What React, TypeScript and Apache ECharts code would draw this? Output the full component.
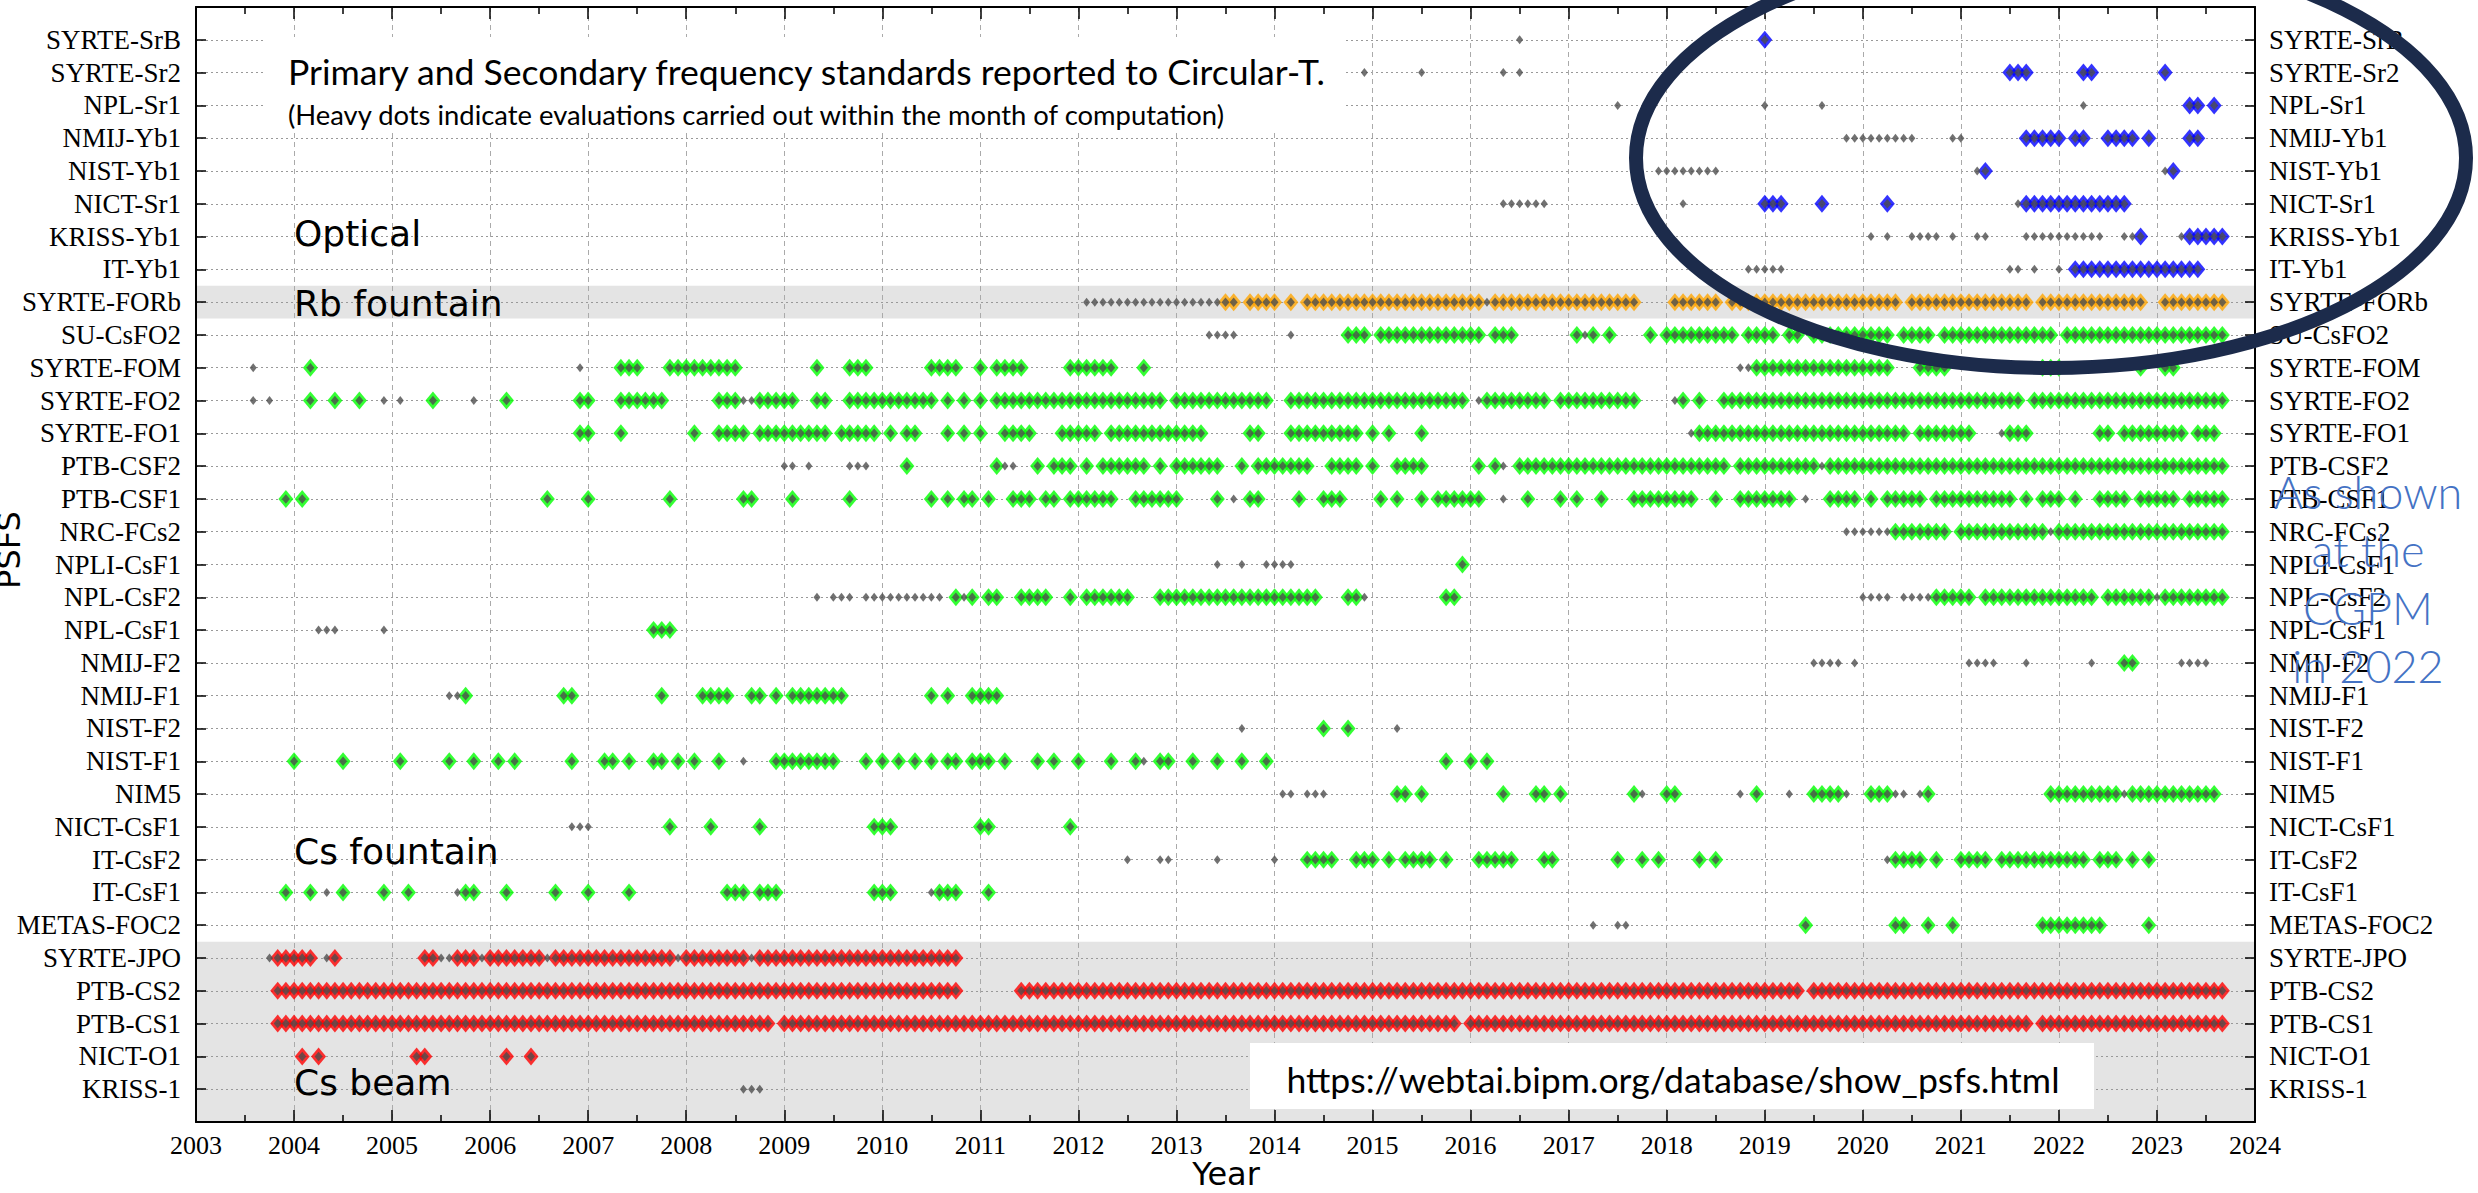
import React, { useEffect, useRef } from "react";
import * as echarts from "echarts";

// ---------- categories (top to bottom) ----------
const ROWS = [
  "SYRTE-SrB", "SYRTE-Sr2", "NPL-Sr1", "NMIJ-Yb1", "NIST-Yb1", "NICT-Sr1", "KRISS-Yb1", "IT-Yb1",
  "SYRTE-FORb",
  "SU-CsFO2", "SYRTE-FOM", "SYRTE-FO2", "SYRTE-FO1", "PTB-CSF2", "PTB-CSF1", "NRC-FCs2", "NPLI-CsF1",
  "NPL-CsF2", "NPL-CsF1", "NMIJ-F2", "NMIJ-F1", "NIST-F2", "NIST-F1", "NIM5", "NICT-CsF1", "IT-CsF2",
  "IT-CsF1", "METAS-FOC2",
  "SYRTE-JPO", "PTB-CS2", "PTB-CS1", "NICT-O1", "KRISS-1",
];
const OPTICAL = ["SYRTE-SrB", "SYRTE-Sr2", "NPL-Sr1", "NMIJ-Yb1", "NIST-Yb1", "NICT-Sr1", "KRISS-Yb1", "IT-Yb1"];
const RB_FOUNTAIN = ["SYRTE-FORb"];
const CS_FOUNTAIN = ["SU-CsFO2", "SYRTE-FOM", "SYRTE-FO2", "SYRTE-FO1", "PTB-CSF2", "PTB-CSF1", "NRC-FCs2", "NPLI-CsF1",
  "NPL-CsF2", "NPL-CsF1", "NMIJ-F2", "NMIJ-F1", "NIST-F2", "NIST-F1", "NIM5", "NICT-CsF1", "IT-CsF2", "IT-CsF1", "METAS-FOC2"];
const CS_BEAM = ["SYRTE-JPO", "PTB-CS2", "PTB-CS1", "NICT-O1", "KRISS-1"];
const YEAR_TICKS = [2003, 2024];

// ---------- monthly reports: per year, 12 months (Jan..Dec); 'X' heavy dot, 'o' light dot ----------
const ALL = "XXXXXXXXXXXX";
const SYRTE_SrB = { 2016: "......o.....", 2019: "X..........." };
const SYRTE_Sr2 = { 2014: "...........o", 2015: "......o.....", 2016: "....o.o.....", 2021: "......XXX...", 2022: "...XX.......", 2023: ".X.........." };
const NPL_Sr1 = { 2017: "......o.....", 2019: "o......o....", 2022: "...o........", 2023: "....XX.X...." };
const NMIJ_Yb1 = { 2019: "..........oo", 2020: "ooooooo....o", 2021: "o.......XXXX", 2022: "X.XX..XXXX.X", 2023: "....XX......" };
const NIST_Yb1 = { 2017: "...........o", 2018: "ooooooo.....", 2021: "..oX........", 2023: ".oX........." };
const NICT_Sr1 = { 2016: "....oooooo..", 2018: "..o.........", 2019: "XXX....X....", 2020: "...X........", 2021: ".......oXXXX", 2022: "XXXXXXXXX..." };
const KRISS_Yb1 = { 2020: ".o.o..oooo.o", 2021: "..oo....oooo", 2022: "oooooo..ooX.", 2023: "...oXXXXX..." };
const IT_Yb1 = { 2018: "..........oo", 2019: "ooo.........", 2021: "......oo.o..", 2022: "o.XXXXXXXXXX", 2023: "XXXXXX......" };
const SYRTE_FORb = { 2012: ".ooooooooooo", 2013: "ooooooXX.XXX", 2014: "X.X.XXXXXXXX", 2015: ALL, 2016: "XXoXXXXXXXXX", 2017: "XXXXXXXXX...", 2018: ".XXXXXX.XXXX", 2019: ALL, 2020: "XXXXX.XXXXXX", 2021: "XXXXXXXXX.XX", 2022: "XXXXXXXXXXX.", 2023: ".XXXXXXXX..." };
const SU_CsFO2 = { 2013: "....oooo....", 2014: "..o......XXX", 2015: ".XXXXXXXXXXX", 2016: "XX.XXX......", 2017: ".XoX.X....X.", 2018: "XXXXXXXXX.XX", 2019: "XX.XX.XXXXXX", 2020: "XXXX.XXXX.XX", 2021: ALL, 2022: ".XXXXXXXXXXX", 2023: "XXXXXXXXX..." };
const SYRTE_FOM = { 2003: ".......o....", 2004: "..X.........", 2006: "...........o", 2007: "....XXX...XX", 2008: "XXXXXXX.....", 2009: "....X...XXX.", 2010: "......XXXX..", 2011: "X.XXXX.....X", 2012: "XXXXX...X...", 2018: ".........ooX", 2019: ALL, 2020: "XXXX...XXXX.", 2021: "..........XX", 2022: "X.........X.", 2023: ".XX........." };
const SYRTE_FO2 = { 2003: ".......o.o..", 2004: "..X..X..X..o", 2005: ".o...X....o.", 2006: "..X........X", 2007: "X...XXXXXX..", 2008: "....XXXooXXX", 2009: "XX..XX..XXXX", 2010: "XXXXXXX.X.X.", 2011: "X.XXXXXXXXXX", 2012: "XXXXXXXXXXX.", 2013: ALL, 2014: "..XXXXXXXXXX", 2015: ALL, 2016: ".oXXXXXXXX.X", 2017: "XXXXXXXXX...", 2018: ".oX.X..XXXXX", 2019: ALL, 2020: ALL, 2021: "XXXXXXXX.XXX", 2022: ALL, 2023: "XXXXXXXXX..." };
const SYRTE_FO1 = { 2006: "...........X", 2007: "X...X.......", 2008: ".X..XXXX.XXX", 2009: "XXXXXX.XXXXX", 2010: ".X.XX...X.X.", 2011: "X..XXXX...XX", 2012: "XXX.XXXXXXXX", 2013: "XXXX.....XX.", 2014: "..XXXXXXXXX.", 2015: "X.X...X.....", 2018: "...oXXXXXXXX", 2019: ALL, 2020: "XXXXXX.XXXXX", 2021: "XX...oXXX...", 2022: ".....XX.XXXX", 2023: "XXXX.XXX...." };
const PTB_CSF2 = { 2009: "oo.o....ooo.", 2010: "...X........", 2011: "..Xoo..X.XXX", 2012: ".X.XXXXXX.X.", 2013: "XXXXXX..X.XX", 2014: "XXXXX..XXXX.", 2015: "X..XXXX.....", 2016: ".X.Xo.XXXXXX", 2017: ALL, 2018: "XXXXXXXX.XXX", 2019: "XXXXXXXoXXXX", 2020: ALL, 2021: ALL, 2022: ALL, 2023: "XXXXXXXXX..." };
const PTB_CSF1 = { 2003: "...........X", 2004: ".X..........", 2006: ".......X....", 2007: "X.........X.", 2008: ".......XX...", 2009: ".X......X...", 2010: "......X.X.XX", 2011: ".X..XXX.XX.X", 2012: "XXXXX..XXXXX", 2013: "X....X.o.XX.", 2014: "...X..XXX...", 2015: ".X.X..X.XXXX", 2016: "XX..o..X...X", 2017: ".X..X...XXXX", 2018: "XXXX..X..XXX", 2019: "XXXX.o..XXXX", 2020: ".X.XXXXX.XXX", 2021: "XXXXXXX.X.XX", 2022: "X.X..XXXX.XX", 2023: "XXX.XXXXX..." };
const NRC_FCs2 = { 2019: "..........oo", 2020: "ooooXXXXXXX.", 2021: "XXXXXXXXXXXo", 2022: ALL, 2023: "XXXXXXXXX..." };
const NPLI_CsF1 = { 2013: ".....o..o..o", 2014: "ooo.........", 2015: "...........X" };
const NPL_CsF2 = { 2009: "....o.ooo.oo", 2010: "oooooooo.XoX", 2011: ".XX..XXXX..X", 2012: ".XXXXXX...XX", 2013: ALL, 2014: "XXXXXX...XXo", 2015: ".........XX.", 2020: "oooo.ooooXXX", 2021: "XX.XXXXXXXXX", 2022: "XXXXX.XXXXXX", 2023: "oXXXXXXXX..." };
const NPL_CsF1 = { 2004: "...ooo.....o", 2007: "........XXX." };
const NMIJ_F2 = { 2019: "......oooo.o", 2021: ".oooo...o...", 2022: "....o...XX..", 2023: "...oooo....." };
const NMIJ_F1 = { 2005: ".......ooX..", 2006: ".........XX.", 2007: ".........X..", 2008: "..XXXX..XX.X", 2009: ".XXXXXXX....", 2010: "......X.X..X", 2011: "XXX........." };
const NIST_F2 = { 2013: "........o...", 2014: "......X..X..", 2015: "...o........" };
const NIST_F1 = { 2004: "X.....X.....", 2005: ".X.....X..X.", 2006: ".X.X......X.", 2007: "..XX.X..XX.X", 2008: ".X..X..o...X", 2009: "XXXXXXX...X.", 2010: "X.X.X.X.XX.X", 2011: "XX.X...X.X..", 2012: "X...X..Xo.XX", 2013: "..X..X..X..X", 2015: ".........X..", 2016: "X.X........." };
const NIM5 = { 2014: ".oo.ooo.....", 2015: "...XX.X.....", 2016: "....X...XX.X", 2017: "........Xo..", 2018: "XX.......o.X", 2019: "...o..XXXXo.", 2020: ".XXXoo.oX...", 2021: "...........X", 2022: "XXXXXXXXoXXX", 2023: "XXXXXXXX...." };
const NICT_CsF1 = { 2006: "..........oo", 2007: "o.........X.", 2008: "...X.....X..", 2009: "...........X", 2010: "XX..........", 2011: "XX.........X" };
const IT_CsF2 = { 2012: "......o...oo", 2013: ".....o......", 2014: "o...XXXX..XX", 2015: "X.X.XXXX.X..", 2016: ".XXXXX...XX.", 2017: "......X..X.X", 2018: "....X.X.....", 2020: "...oXXXX.X..", 2021: "XXXX.XXXXXXX", 2022: "XXXX.XXX.X.X" };
const IT_CsF1 = { 2003: "...........X", 2004: "..X.o.X....X", 2005: "..X.....oXX.", 2006: "..X.....X...", 2007: "X....X......", 2008: ".....XXX.XXX", 2009: "...........X", 2010: "XX....oXXX..", 2011: ".X.........." };
const METAS_FOC2 = { 2017: "...o..oo....", 2019: ".....X......", 2020: "....XX..X..X", 2021: "..........XX", 2022: "XXXXXX.....X" };
const SYRTE_JPO = { 2003: ".........oXX", 2004: "XXX.oX......", 2005: "....XXooXXXo", 2006: "XXXXXXXoXXXX", 2007: "XXXXXXXXXXXo", 2008: "XXXXXXXXoXXX", 2009: ALL, 2010: "XXXXXXXXXX.." };
const PTB_CS2 = { 2003: "..........XX", 2004: ALL, 2005: ALL, 2006: ALL, 2007: ALL, 2008: ALL, 2009: ALL, 2010: "XXXXXXXXXX..", 2011: ".....XXXXXXX", 2012: ALL, 2013: ALL, 2014: ALL, 2015: ALL, 2016: ALL, 2017: ALL, 2018: ALL, 2019: "XXXXX.XXXXXX", 2020: ALL, 2021: ALL, 2022: ALL, 2023: "XXXXXXXXX..." };
const PTB_CS1 = { 2003: "..........XX", 2004: ALL, 2005: ALL, 2006: ALL, 2007: ALL, 2008: "XXXXXXXXXXX.", 2009: ALL, 2010: ALL, 2011: ALL, 2012: ALL, 2013: ALL, 2014: ALL, 2015: "XXXXXXXXXXX.", 2016: ALL, 2017: ALL, 2018: ALL, 2019: ALL, 2020: ALL, 2021: "XXXXXXXXX.XX", 2022: ALL, 2023: "XXXXXXXXX..." };
const NICT_O1 = { 2004: ".X.X........", 2005: "...XX.......", 2006: "..X..X......" };
const KRISS_1 = { 2008: ".......ooo.." };

const REPORTS: Record<string, Record<number, string>> = {
  "SYRTE-SrB": SYRTE_SrB, "SYRTE-Sr2": SYRTE_Sr2, "NPL-Sr1": NPL_Sr1, "NMIJ-Yb1": NMIJ_Yb1, "NIST-Yb1": NIST_Yb1,
  "NICT-Sr1": NICT_Sr1, "KRISS-Yb1": KRISS_Yb1, "IT-Yb1": IT_Yb1, "SYRTE-FORb": SYRTE_FORb, "SU-CsFO2": SU_CsFO2,
  "SYRTE-FOM": SYRTE_FOM, "SYRTE-FO2": SYRTE_FO2, "SYRTE-FO1": SYRTE_FO1, "PTB-CSF2": PTB_CSF2, "PTB-CSF1": PTB_CSF1,
  "NRC-FCs2": NRC_FCs2, "NPLI-CsF1": NPLI_CsF1, "NPL-CsF2": NPL_CsF2, "NPL-CsF1": NPL_CsF1, "NMIJ-F2": NMIJ_F2,
  "NMIJ-F1": NMIJ_F1, "NIST-F2": NIST_F2, "NIST-F1": NIST_F1, "NIM5": NIM5, "NICT-CsF1": NICT_CsF1, "IT-CsF2": IT_CsF2,
  "IT-CsF1": IT_CsF1, "METAS-FOC2": METAS_FOC2, "SYRTE-JPO": SYRTE_JPO, "PTB-CS2": PTB_CS2, "PTB-CS1": PTB_CS1,
  "NICT-O1": NICT_O1, "KRISS-1": KRISS_1,
};

// shaded bands (row ranges)
const BANDS = [[7.5, 8.5], [27.5, 33]];

function points(names: string[], kind: string) {
  const out: number[][] = [];
  names.forEach((name) => {
    const row = ROWS.indexOf(name);
    const rep = REPORTS[name];
    Object.keys(rep).map(Number).sort((a, b) => a - b).forEach((yr) => {
      const s = rep[yr];
      for (let m = 0; m < 12; m++) if (s[m] === kind) out.push([yr + m / 12, row]);
    });
  });
  return out.sort((a, b) => a[0] - b[0]);
}

const DARK = "#4d4d4d";
const SERIF = "Liberation Serif";
const SANS = "DejaVu Sans";
const CAL = "Lato";

export default function App() {
  const ref = useRef<HTMLDivElement>(null);
  useEffect(() => {
    document.body.style.margin = "0";
    const chart = echarts.init(ref.current!, null, { renderer: "svg" });
    const yFmt = (v: number) => (Number.isInteger(v) && v >= 0 && v < ROWS.length ? ROWS[v] : "");
    const frame = { color: "#000", width: 2 };
    const tickStyle = { color: "#000", width: 1.5 };
    const xBase = (pos: string, labels: boolean) => ({
      type: "value", min: YEAR_TICKS[0], max: YEAR_TICKS[1], interval: 1, position: pos, z: 1,
      axisLine: { show: true, onZero: false, lineStyle: frame },
      axisTick: { show: true, inside: true, length: 12, lineStyle: tickStyle },
      minorTick: { show: true, splitNumber: 2, length: 7, lineStyle: tickStyle },
      splitLine: { show: labels, lineStyle: { color: "#aaaaaa", type: [5, 4], width: 1 } },
      axisLabel: { show: labels, color: "#000", fontFamily: SERIF, fontSize: 26, margin: 10, formatter: (v: number) => String(Math.round(v)) },
    });
    const yBase = (pos: string, grid: boolean) => ({
      type: "value", min: -1, max: 33, interval: 1, inverse: true, position: pos, z: 1,
      axisLine: { show: true, onZero: false, lineStyle: frame },
      axisTick: { show: true, inside: true, length: 10, lineStyle: tickStyle },
      splitLine: { show: grid, lineStyle: { color: "#999999", type: [2, 3], width: 1 } },
      axisLabel: { show: true, color: "#000", fontFamily: SERIF, fontSize: 27, margin: pos === "left" ? 15 : 14, formatter: yFmt },
    });
    const groups = [
      { names: OPTICAL, color: "#0000ff" },
      { names: RB_FOUNTAIN, color: "#ffa500" },
      { names: CS_FOUNTAIN, color: "#00ff00" },
      { names: CS_BEAM, color: "#ff0000" },
    ];
    const common = { type: "scatter", symbol: "diamond", silent: true, large: false, progressive: 0, animation: false };
    const series: any[] = [
      {
        type: "custom", z: 0, silent: true, data: BANDS,
        renderItem: (_p: any, api: any) => {
          const p0 = api.coord([YEAR_TICKS[0], api.value(0)]);
          const p1 = api.coord([YEAR_TICKS[1], api.value(1)]);
          return { type: "rect", shape: { x: p0[0], y: p0[1], width: p1[0] - p0[0], height: p1[1] - p0[1] }, style: { fill: "#e4e4e4" } };
        },
      },
    ];
    groups.forEach((g) => {
      series.push({ ...common, z: 3, symbolSize: [15, 18], itemStyle: { color: g.color }, data: points(g.names, "X") });
    });
    series.push({ ...common, z: 4, symbolSize: [8, 9.5], itemStyle: { color: DARK }, data: points(ROWS, "X") });
    series.push({ ...common, z: 4, symbolSize: [7, 9], itemStyle: { color: DARK }, data: points(ROWS, "o") });

    const cat = (text: string, y: number) => ({
      type: "text", x: 294, y, z: 6, style: { text, fill: "#000", fontFamily: SANS, fontSize: 36, align: "left", verticalAlign: "middle" },
    });
    chart.setOption({
      animation: false,
      backgroundColor: "#ffffff",
      grid: { left: 196, right: 223, top: 7, bottom: 71, containLabel: false },
      xAxis: [xBase("bottom", true), xBase("top", false)],
      yAxis: [yBase("left", true), yBase("right", false)],
      series,
      graphic: [
        { type: "rect", z: 5, shape: { x: 265, y: 37, width: 1080, height: 93 }, style: { fill: "#ffffff" } },
        { type: "text", x: 288, y: 71, z: 6, style: { text: "Primary and Secondary frequency standards reported to Circular-T.", fill: "#000", fontFamily: CAL, fontSize: 35.6, align: "left", verticalAlign: "middle" } },
        { type: "text", x: 288, y: 114, z: 6, style: { text: "(Heavy dots indicate evaluations carried out within the month of computation)", fill: "#000", fontFamily: CAL, fontSize: 27.4, align: "left", verticalAlign: "middle" } },
        cat("Optical", 233),
        cat("Rb fountain", 303),
        cat("Cs fountain", 851),
        cat("Cs beam", 1082),
        { type: "rect", z: 5, shape: { x: 1250, y: 1043, width: 844, height: 66 }, style: { fill: "#ffffff" } },
        { type: "text", x: 1673, y: 1079, z: 6, style: { text: "https://webtai.bipm.org/database/show_psfs.html", fill: "#000", fontFamily: CAL, fontSize: 35.6, align: "center", verticalAlign: "middle" } },
        { type: "text", x: 2368, y: 579, z: 6, style: { text: "As shown\nat the\nCGPM\nin 2022", fill: "#4472c4", fontFamily: CAL, fontWeight: 300, fontSize: 45, lineHeight: 58, align: "center", verticalAlign: "middle" } },
        { type: "text", x: 9, y: 550, rotation: Math.PI / 2, z: 6, style: { text: "PSFS", fill: "#000", fontFamily: SANS, fontSize: 32, align: "center", verticalAlign: "middle" } },
        { type: "text", x: 1226, y: 1174, z: 6, style: { text: "Year", fill: "#000", fontFamily: SANS, fontSize: 32, align: "center", verticalAlign: "middle" } },
        { type: "ellipse", z: 10, shape: { cx: 2051, cy: 158, rx: 415, ry: 210 }, style: { fill: "none", stroke: "#1c2b4b", lineWidth: 14 } },
      ],
    });
    return () => chart.dispose();
  }, []);
  return <div ref={ref} style={{ width: 2478, height: 1193, position: "fixed", left: 0, top: 0, background: "#fff" }} />;
}
